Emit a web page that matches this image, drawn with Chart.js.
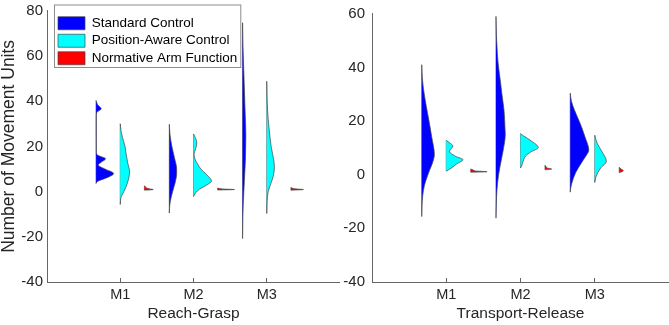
<!DOCTYPE html>
<html>
<head>
<meta charset="utf-8">
<script src="https://cdn.jsdelivr.net/npm/chart.js@4.4.1/dist/chart.umd.min.js"></script>
<style>
html, body { margin: 0; padding: 0; background: #fff; }
#wrap { position: relative; width: 669px; height: 325px; }
canvas { position: absolute; top: 0; }
#left { left: 0; }
#right { left: 340px; }
</style>
</head>
<body>
<div id="wrap">
  <canvas id="left" width="340" height="325"></canvas>
  <canvas id="right" width="329" height="325"></canvas>
</div>
<script>
const categories = ['M1', 'M2', 'M3']
const seriesNames = ['Standard Control', 'Position-Aware Control', 'Normative Arm Function']
const leftYTicks = [-40, -20, 0, 20, 40, 60, 80]
const rightYTicks = [-40, -20, 0, 20, 40, 60]

// violin outlines: [value, half width in x units], one list per M1..M3
const rgStandard = [
  [[3.6,0],[4.5,0.02],[6,0.14],[8,0.24],[10,0.12],[11.8,0.03],[13,0.07],[14.5,0.13],[16,0.03],[17,0.004],[25,0.003],[33,0.003],[35,0.01],[36.6,0.07],[38.5,0.02],[40.3,0]],
  [[-9.5,0],[-7,0.003],[-4,0.015],[0,0.045],[4,0.08],[8,0.1],[10,0.1],[15,0.07],[20,0.035],[25,0.01],[29.8,0]],
  [[-20.8,0],[-12,0.003],[-5,0.01],[5,0.025],[15,0.04],[25,0.045],[35,0.035],[45,0.025],[55,0.015],[65,0.005],[74.7,0]]
]
const rgPosition = [
  [[-5.7,0],[-4,0.004],[-2.2,0.014],[0,0.05],[3.6,0.096],[8.7,0.127],[13,0.1],[16.7,0.08],[20,0.065],[24,0.03],[27,0.01],[30,0]],
  [[-2.2,0],[-0.5,0.03],[1,0.08],[2.5,0.16],[4.7,0.245],[7.5,0.18],[10,0.1],[12,0.06],[14,0.025],[16.5,0.008],[19,0.03],[21.5,0.045],[23.5,0.03],[25.5,0]],
  [[-9.7,0],[-4,0.005],[0,0.02],[3,0.05],[7,0.09],[11,0.105],[14,0.095],[20,0.06],[27,0.035],[32,0.02],[40,0.005],[48.8,0]]
]
const rgNormative = [
  [[0.6,0],[0.9,0.12],[1.2,0.07],[1.6,0.03],[2.2,0.01],[2.6,0]],
  [[0.7,0],[0.9,0.23],[1.1,0.1],[1.4,0.02],[1.6,0]],
  [[0.6,0],[0.9,0.17],[1.2,0.06],[1.8,0]]
]
const trStandard = [
  [[-15.6,0],[-12,0.003],[-8,0.012],[-4,0.036],[-1,0.07],[2,0.11],[4,0.14],[7.5,0.17],[14,0.135],[20,0.098],[26,0.058],[32,0.023],[36,0.008],[41,0]],
  [[-16.2,0],[-11,0.004],[-6,0.012],[0,0.035],[6,0.075],[12,0.115],[15,0.125],[18,0.12],[24,0.108],[30,0.08],[36,0.054],[42,0.027],[48,0.013],[52,0.005],[59,0]],
  [[-6.5,0],[-5,0.006],[-3,0.023],[0.7,0.072],[4.4,0.15],[6.5,0.2],[9.2,0.25],[14,0.2],[19,0.135],[24,0.058],[27.5,0.015],[30.4,0]]
]
const trPosition = [
  [[1.3,0],[2.5,0.07],[4,0.14],[5.6,0.225],[6.8,0.13],[8,0.06],[8.8,0.045],[9.8,0.07],[10.7,0.09],[11.8,0.05],[12.8,0]],
  [[2.5,0],[3.2,0.015],[5,0.035],[7,0.07],[8.5,0.14],[10.1,0.24],[12.5,0.15],[14.5,0.04],[15.3,0]],
  [[-2.9,0],[-1.1,0.013],[0.7,0.04],[2.5,0.08],[5,0.157],[8.7,0.095],[11.6,0.035],[13,0.015],[14.7,0]]
]
const trNormative = [
  [[0.9,0],[1.1,0.22],[1.4,0.06],[1.8,0.03],[2.1,0]],
  [[1.8,0],[2.1,0.09],[2.5,0.03],[3.2,0.01],[3.5,0]],
  [[0.7,0],[1.5,0.055],[2.2,0.02],[2.8,0]]
]

const seriesColors = ['#0000ff', '#00ffff', '#ff0000']
const seriesOffset = [-0.33, 0, 0.33]
const edgeColor = '#444'
const textColor = '#262626'
const axisColor = '#666'
const fontFamily = '"Liberation Sans", Arial, Helvetica, sans-serif'

function violinSets(panel) {
  let fills = []
  let bases = []
  panel.forEach((series, s) => {
    series.forEach((pairs, c) => {
      let x0 = c + 1 + seriesOffset[s]
      fills.push({
        label: c == 0 ? seriesNames[s] : '',
        data: pairs.map(p => ({x: x0 + p[1], y: p[0]})),
        fill: {value: x0},
        backgroundColor: seriesColors[s],
        borderColor: edgeColor,
        borderWidth: 0.7,
        pointRadius: 0,
        cubicInterpolationMode: 'monotone'
      })
      bases.push({
        label: '',
        data: [{x: x0, y: pairs[0][0]}, {x: x0, y: pairs[pairs.length - 1][0]}],
        fill: false,
        borderColor: edgeColor,
        borderWidth: 0.7,
        pointRadius: 0
      })
    })
  })
  return fills.concat(bases)
}

// legend sits inside the axes like the matlab one, with a thin frame
const legendBox = {
  id: 'legendBox',
  afterLayout(chart) {
    const lg = chart.legend
    if (!lg || !lg.options.display) return
    lg.left = 54
    lg.top = 12.5
  },
  beforeDatasetsDraw(chart) {
    const lg = chart.legend
    if (!lg || !lg.options.display) return
    const hb = lg.legendHitBoxes
    let right = 0
    hb.forEach(h => { right = Math.max(right, h.left + h.width) })
    const last = hb[hb.length - 1]
    const ctx = chart.ctx
    ctx.save()
    ctx.strokeStyle = '#8c8c8c'
    ctx.lineWidth = 1
    ctx.strokeRect(lg.left + 0.5, hb[0].top - 12 + 0.5, right + 3 - lg.left, last.top + last.height + 14 - hb[0].top)
    ctx.restore()
  }
}

function makeChart(id, panel, yTicks, xTitle, opts) {
  const sets = violinSets(panel)
  return new Chart(document.getElementById(id), {
    type: 'line',
    data: {datasets: sets},
    options: {
      responsive: false,
      animation: false,
      indexAxis: 'y',
      layout: {padding: {top: 7, right: 0, bottom: 0, left: 0}},
      plugins: {
        tooltip: {enabled: false},
        legend: {
          display: opts.legend,
          position: 'chartArea',
          align: 'start',
          labels: {
            boxWidth: 27,
            boxHeight: 13,
            padding: 4,
            color: '#000',
            font: {family: fontFamily, size: 13.5},
            filter: item => item.text !== ''
          }
        }
      },
      scales: {
        x: {
          type: 'linear',
          min: 0,
          max: 4,
          afterBuildTicks: ax => { ax.ticks = [1, 2, 3].map(v => ({value: v})) },
          afterFit: ax => { ax.height = 43 },
          ticks: {
            callback: v => categories[Math.round(v) - 1],
            color: textColor,
            font: {family: fontFamily, size: 14.5, lineHeight: 1},
            padding: 10,
            autoSkip: false,
            maxRotation: 0
          },
          grid: {drawOnChartArea: false, drawTicks: true, tickLength: -4, color: axisColor},
          border: {color: axisColor, width: 1},
          title: {
            display: true,
            text: xTitle,
            color: textColor,
            font: {family: fontFamily, size: 15.5, lineHeight: 1.2},
            padding: {top: 0, bottom: 2}
          }
        },
        y: {
          type: 'linear',
          min: yTicks[0],
          max: yTicks[yTicks.length - 1],
          afterBuildTicks: ax => { ax.ticks = yTicks.map(v => ({value: v})) },
          afterFit: ax => { ax.width = opts.yWidth },
          ticks: {
            color: textColor,
            font: {family: fontFamily, size: 15, lineHeight: 0.9},
            padding: opts.yPad
          },
          grid: {drawOnChartArea: false, drawTicks: false},
          border: {color: axisColor, width: 1},
          title: {
            display: !!opts.yTitle,
            text: opts.yTitle || '',
            color: textColor,
            font: {family: fontFamily, size: 17.5, lineHeight: 1},
            padding: {top: 0, bottom: 0}
          }
        }
      }
    },
    plugins: [legendBox]
  })
}

makeChart('left', [rgStandard, rgPosition, rgNormative], leftYTicks, 'Reach-Grasp',
  {legend: true, yWidth: 47, yPad: 4, yTitle: 'Number of Movement Units'})
makeChart('right', [trStandard, trPosition, trNormative], rightYTicks, 'Transport-Release',
  {legend: false, yWidth: 32, yPad: 7})
</script>
</body>
</html>
